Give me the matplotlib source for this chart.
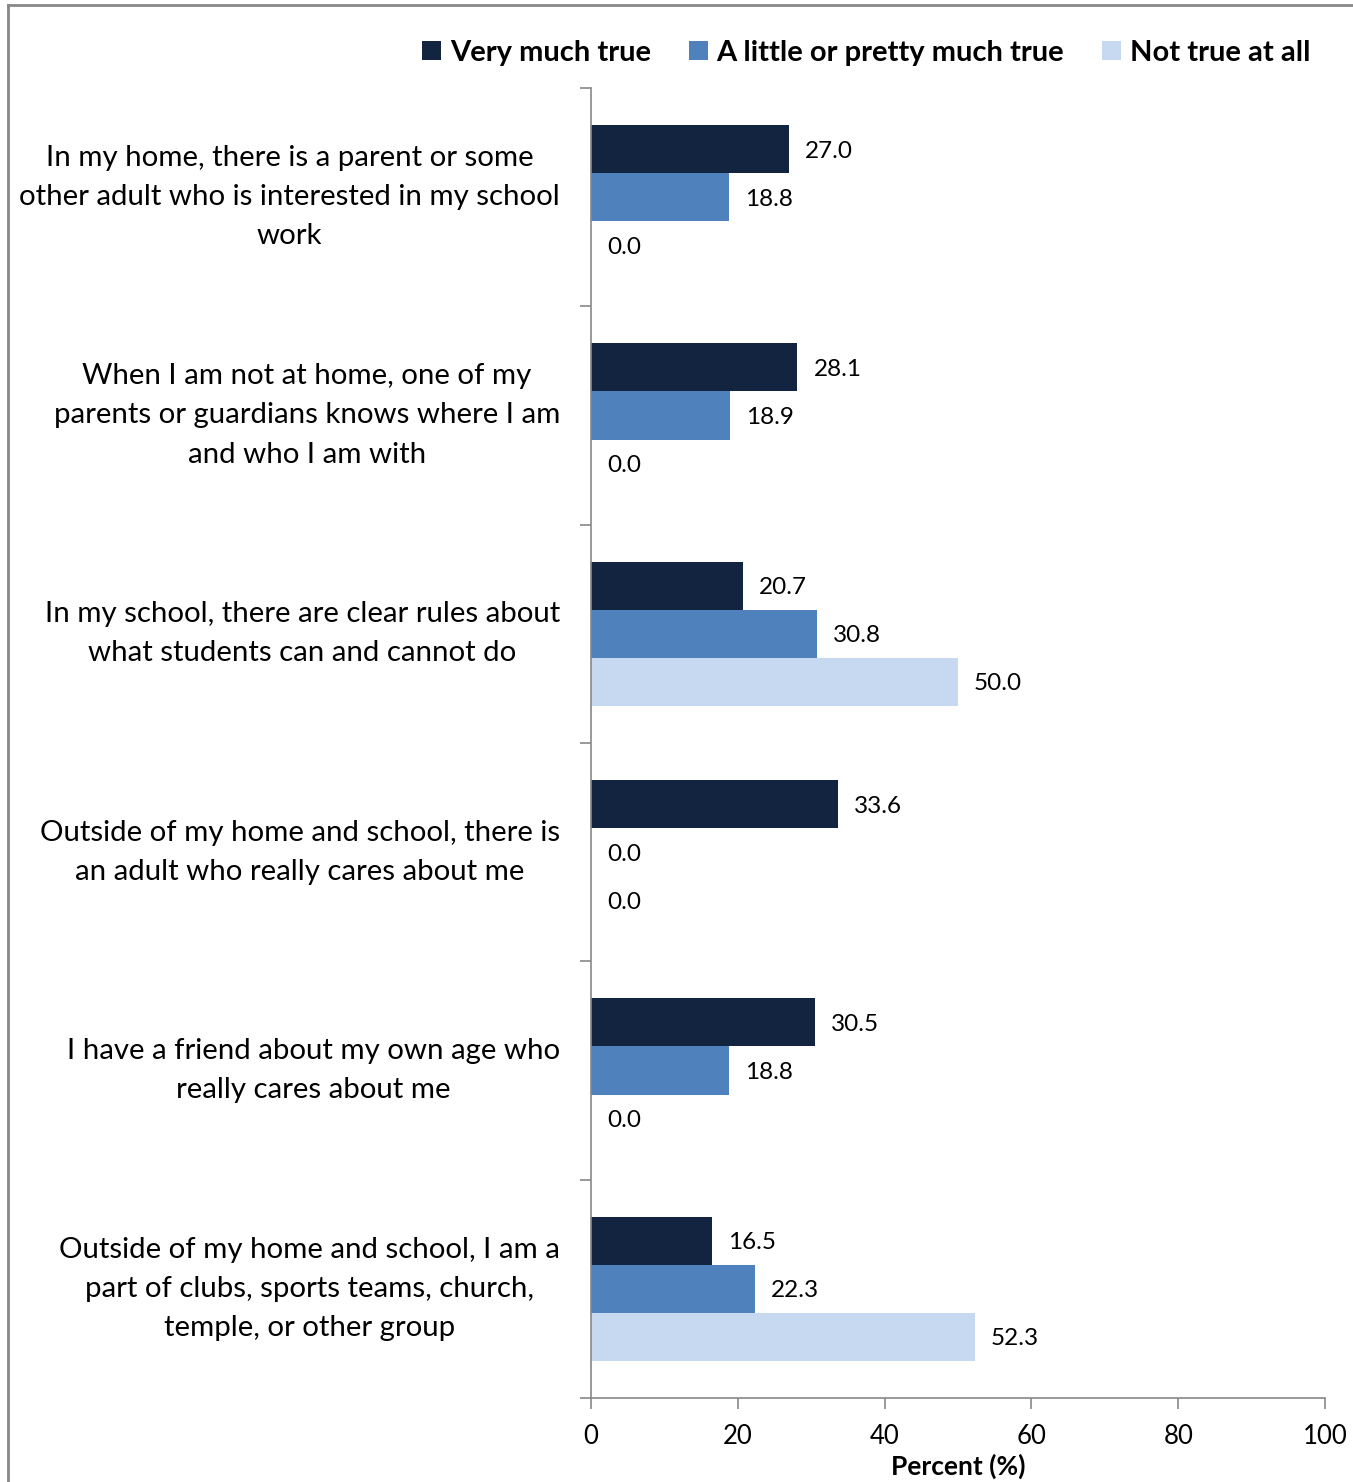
import numpy as np
import matplotlib.pyplot as plt
from matplotlib.lines import Line2D

categories = [
    "In my home, there is a parent or some\nother adult who is interested in my school\nwork",
    "When I am not at home, one of my\nparents or guardians knows where I am\nand who I am with",
    "In my school, there are clear rules about\nwhat students can and cannot do",
    "Outside of my home and school, there is\nan adult who really cares about me",
    "I have a friend about my own age who\nreally cares about me",
    "Outside of my home and school, I am a\npart of clubs, sports teams, church,\ntemple, or other group",
]
series_names = ["Very much true", "A little or pretty much true", "Not true at all"]
very_much = [27.0, 28.1, 20.7, 33.6, 30.5, 16.5]
a_little = [18.8, 18.9, 30.8, 0.0, 18.8, 22.3]
not_true = [0.0, 0.0, 50.0, 0.0, 0.0, 52.3]
colors = ["#12243f", "#4f81bd", "#c6d9f1"]
xticks = [0, 20, 40, 60, 80, 100]

plt.rcParams['font.family'] = ['Lato', 'DejaVu Sans']

fig = plt.figure(figsize=(13.53, 14.82), dpi=100)
ax = fig.add_axes([591/1353, 1-1398/1482, 734/1353, 1310/1482])

y = np.arange(len(categories))
h = 0.22
for i, (vals, name) in enumerate(zip([very_much, a_little, not_true], series_names)):
    pos = y + (i - 1) * h
    ax.barh(pos, vals, height=h, color=colors[i], label=name)
    for p, v in zip(pos, vals):
        ax.text(v + 2.2, p, f"{v:.1f}", va='center_baseline', ha='left', fontsize=17.5)

ax.set_ylim(len(categories) - 0.5, -0.5)
ax.set_xlim(0, 100)
ax.set_xticks(xticks)
ax.set_xticklabels([str(t) for t in xticks], fontsize=18.5)
ax.set_yticks(np.arange(len(categories) + 1) - 0.5)
ax.set_yticklabels([])
ax.tick_params(axis='both', color='#888888', length=8, width=1.2)
ax.tick_params(axis='x', pad=11)
for s in ['top', 'right']:
    ax.spines[s].set_visible(False)
for s in ['left', 'bottom']:
    ax.spines[s].set_color('#888888')
    ax.spines[s].set_linewidth(1.2)
ax.set_xlabel("Percent (%)", fontsize=19, fontweight='bold', labelpad=3)

for yi, lab in zip(y, categories):
    ax.annotate(lab, xy=(0, yi), xycoords=('axes fraction', 'data'),
                xytext=(-31, 0), textcoords='offset pixels',
                ha='right', va='center', multialignment='center',
                fontsize=21.2, linespacing=1.62)

fig.legend(loc='upper right', bbox_to_anchor=(1322/1353, 1-28/1482), ncol=3,
           frameon=False, prop={'weight': 'bold', 'size': 21},
           handlelength=0.65, handleheight=0.65, handletextpad=0.3,
           columnspacing=1.3, borderaxespad=0)

fig.add_artist(Line2D([8/1353, 1], [1-5/1482, 1-5/1482], color='#888888', lw=2))
fig.add_artist(Line2D([8/1353, 8/1353], [0, 1-5/1482], color='#888888', lw=2))

fig.savefig("out.png", dpi=100)
